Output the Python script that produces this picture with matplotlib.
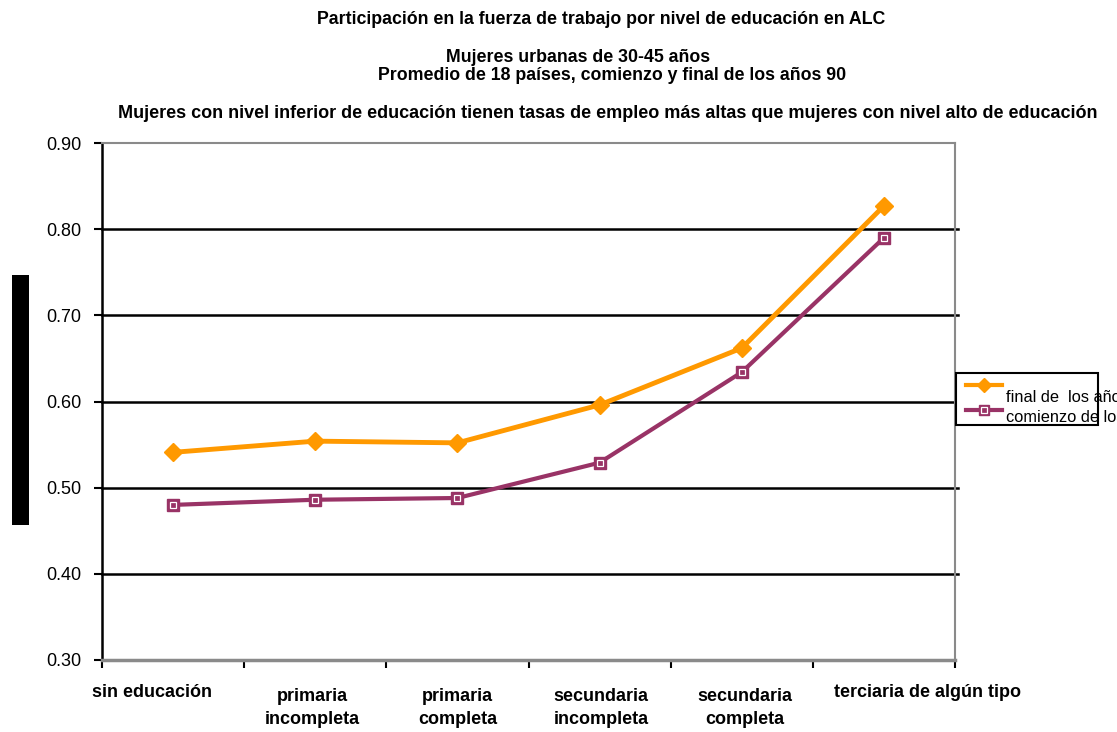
import matplotlib
matplotlib.use('Agg')
import matplotlib.pyplot as plt
from matplotlib.lines import Line2D
from matplotlib.patches import Rectangle
import numpy as np

plt.rcParams['font.family'] = ['Liberation Sans', 'DejaVu Sans']

categories = ['sin educación', 'primaria\nincompleta', 'primaria\ncompleta',
              'secundaria\nincompleta', 'secundaria\ncompleta', 'terciaria de algún tipo']
final_90 = [0.541, 0.554, 0.552, 0.596, 0.662, 0.827]
comienzo_90 = [0.480, 0.486, 0.488, 0.529, 0.634, 0.790]
label_final = 'final de  los años 90'
label_comienzo = 'comienzo de los años 90'
yticks = [0.30, 0.40, 0.50, 0.60, 0.70, 0.80, 0.90]

orange = '#FF9900'
purple = '#993366'
grey = '#8a8a8a'

W, H = 1117, 732
fig = plt.figure(figsize=(W / 100, H / 100), dpi=100)
ax = fig.add_axes([102 / W, (H - 660) / H, (955 - 102) / W, (660 - 143) / H])

x = np.arange(len(categories))
ax.plot(x, final_90, color=orange, lw=3.5, marker='D', ms=9, mfc=orange, mec=orange,
        zorder=4, clip_on=False)
ax.plot(x, comienzo_90, color=purple, lw=3, marker='s', ms=8, mfc=purple, mec=purple,
        mew=1, zorder=3, clip_on=False)
# thin white inner outline of the square markers
ax.plot(x, comienzo_90, ls='none', marker='s', ms=5, mfc='none', mec='white',
        mew=0.9, zorder=3.5, clip_on=False)

ax.set_xlim(-0.5, len(categories) - 0.5)
ax.set_ylim(0.30, 0.90)
ax.set_yticks(yticks)
ax.set_yticklabels(['%.2f' % v for v in yticks], fontsize=13)
for v in yticks[1:-1]:
    ax.plot([-0.5, len(categories) - 0.48], [v, v], color='black', lw=1.8, zorder=1,
            clip_on=False)

ax.set_xticks(np.arange(len(categories) + 1) - 0.5)
ax.set_xticklabels([])
ax.tick_params(axis='x', direction='out', length=6, width=1.5)
ax.tick_params(axis='y', direction='out', length=6, width=1.5, pad=9)

# x labels, placed like the original
offsets = [-0.15, -0.02, 0.0, 0.01, 0.02, 0.31]
for i, lab in enumerate(categories):
    two = '\n' in lab
    ax.annotate(lab, xy=(i + offsets[i], 0.30), xycoords='data',
                xytext=(0, -20 if two else -17), textcoords='offset points',
                ha='center', va='top', fontsize=13, fontweight='bold',
                linespacing=1.45, annotation_clip=False)

ax.spines['left'].set_linewidth(1.8)
ax.spines['left'].set_color('black')
for s in ['right', 'top']:
    ax.spines[s].set_color(grey)
    ax.spines[s].set_linewidth(1.5)
ax.spines['bottom'].set_color(grey)
ax.spines['bottom'].set_linewidth(2.5)

# titles
fig.text(601 / W, 1 - 20 / H, 'Participación en la fuerza de trabajo por nivel de educación en ALC',
         ha='center', va='center', fontsize=12.8, fontweight='bold')
fig.text(578 / W, 1 - 57 / H, 'Mujeres urbanas de 30-45 años',
         ha='center', va='center', fontsize=12.8, fontweight='bold')
fig.text(612 / W, 1 - 75 / H, 'Promedio de 18 países, comienzo y final de los años 90',
         ha='center', va='center', fontsize=12.8, fontweight='bold')
fig.text(118 / W, 1 - 113 / H,
         'Mujeres con nivel inferior de educación tienen tasas de empleo más altas que mujeres con nivel alto de educación',
         ha='left', va='center', fontsize=13, fontweight='bold')

# black block on the left
fig.add_artist(Rectangle((12 / W, 1 - 525 / H), 17 / W, 250 / H, transform=fig.transFigure,
                         facecolor='black', edgecolor='none'))

# legend box
fig.add_artist(Rectangle((956 / W, 1 - 425 / H), 142 / W, 52 / H, transform=fig.transFigure,
                         facecolor='white', edgecolor='black', lw=1.5, zorder=5))
fig.add_artist(Line2D([966 / W, 1002 / W], [1 - 385 / H, 1 - 385 / H], transform=fig.transFigure,
                      color=orange, lw=3, zorder=6))
fig.add_artist(Line2D([966 / W, 1002 / W], [1 - 410 / H, 1 - 410 / H], transform=fig.transFigure,
                      color=purple, lw=3, zorder=6))
fig.add_artist(Line2D([984 / W], [1 - 410 / H], transform=fig.transFigure, color=purple,
                      marker='s', ms=7, mfc=purple, mec=purple, zorder=7))
fig.add_artist(Line2D([984 / W], [1 - 410 / H], transform=fig.transFigure, ls='none',
                      marker='s', ms=4.5, mfc='none', mec='white', mew=0.9, zorder=7.5))
fig.add_artist(Line2D([984 / W], [1 - 385 / H], transform=fig.transFigure, color=orange,
                      marker='D', ms=7, zorder=7))
fig.text(1006 / W, 1 - 397 / H, label_final, fontsize=11.8, va='center', ha='left', zorder=8)
fig.text(1006 / W, 1 - 417 / H, label_comienzo, fontsize=11.8, va='center', ha='left', zorder=8)

fig.savefig('out.png', dpi=100)
